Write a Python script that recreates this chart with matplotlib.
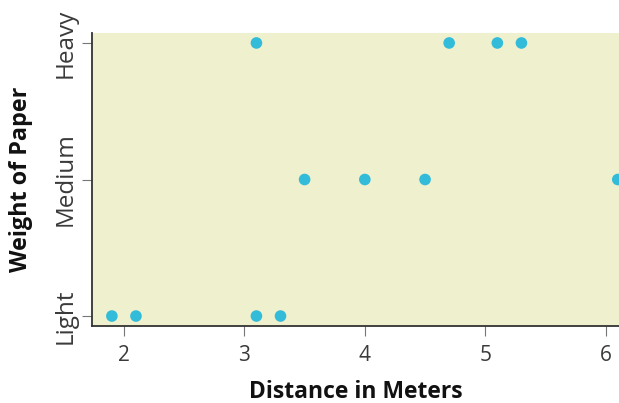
import matplotlib
matplotlib.use("Agg")
import matplotlib.pyplot as plt

# paper airplane flights
weights = ["Light", "Medium", "Heavy"]
light_dist = [1.9, 2.1, 3.1, 3.3]
medium_dist = [3.5, 4.0, 4.5, 6.1]
heavy_dist = [3.1, 4.7, 5.1, 5.3]
x_ticks = [2, 3, 4, 5, 6]

plt.rcParams['font.family'] = ['Open Sans', 'DejaVu Sans']

fig = plt.figure(figsize=(6.19, 4.03), dpi=100)
ax = fig.add_axes([92/619, 77/403, 527/619, 293/403])
ax.set_facecolor("#EFF0CD")

for i, xs in enumerate([light_dist, medium_dist, heavy_dist]):
    ax.scatter(xs, [i]*len(xs), s=70, color="#32BCDA", edgecolors="none",
               zorder=3, clip_on=False)

ax.set_xlim(1.735, 6.11)
ax.set_ylim(-0.073, 2.073)
ax.set_xticks(x_ticks)
ax.set_yticks(range(len(weights)))
ax.set_yticklabels(weights, rotation=90, va="center")

for s in ["top", "right"]:
    ax.spines[s].set_visible(False)
for s in ["left", "bottom"]:
    ax.spines[s].set_color("#333333")
    ax.spines[s].set_linewidth(1.3)

ax.tick_params(axis="x", length=7, color="#777777", labelsize=15,
               labelcolor="#3a3a3a", pad=7)
ax.tick_params(axis="y", length=7, color="#777777", labelsize=17.5,
               labelcolor="#3a3a3a", pad=3)

ax.set_xlabel("Distance in Meters", fontsize=16.5, fontweight="bold", color="#111111")
ax.set_ylabel("Weight of Paper", fontsize=16.8, fontweight="bold", color="#111111")
ax.xaxis.set_label_coords(0.5, -0.183)
ax.yaxis.set_label_coords(-0.112, 0.5)

fig.savefig("out.png", dpi=100)
